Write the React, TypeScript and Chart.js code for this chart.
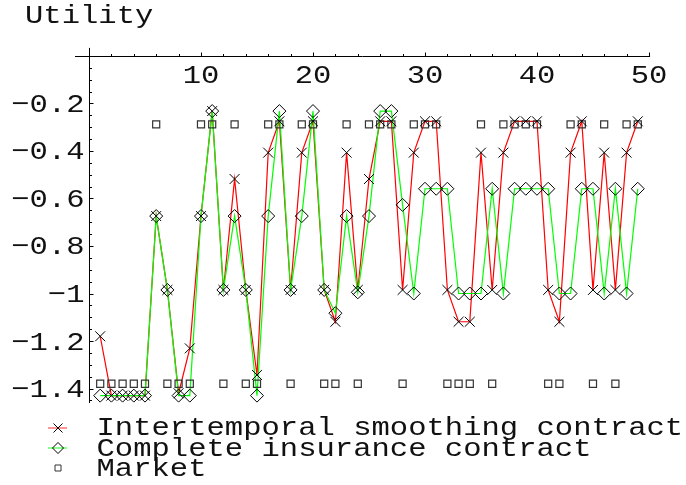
import React, { useEffect, useRef } from "react";
import { Chart, registerables } from "chart.js";

Chart.register(...registerables);

// ---------- data ----------
const periods = [
  1, 2, 3, 4, 5, 6, 7, 8, 9, 10, 11, 12, 13, 14, 15, 16, 17, 18, 19, 20, 21, 22, 23, 24, 25,
  26, 27, 28, 29, 30, 31, 32, 33, 34, 35, 36, 37, 38, 39, 40, 41, 42, 43, 44, 45, 46, 47, 48, 49,
];

const smoothing = [
  -1.18, -1.43, -1.43, -1.43, -1.43, -0.674, -0.985, -1.42, -1.231, -0.674,
  -0.232, -0.985, -0.518, -0.985, -1.343, -0.407, -0.275, -0.985, -0.407, -0.275,
  -0.985, -1.119, -0.407, -0.985, -0.518, -0.275, -0.275, -0.985, -0.407, -0.275,
  -0.275, -0.985, -1.119, -1.119, -0.407, -0.985, -0.407, -0.275, -0.275, -0.275,
  -0.985, -1.119, -0.407, -0.275, -0.985, -0.407, -0.985, -0.407, -0.275,
];

const insurance = [
  -1.43, -1.43, -1.43, -1.43, -1.43, -0.674, -0.985, -1.43, -1.43, -0.674,
  -0.232, -0.985, -0.674, -0.985, -1.43, -0.674, -0.232, -0.985, -0.674, -0.232,
  -0.985, -1.083, -0.674, -0.995, -0.674, -0.232, -0.232, -0.627, -1.0, -0.559,
  -0.559, -0.559, -1.0, -1.0, -1.0, -0.559, -1.0, -0.559, -0.559, -0.559,
  -0.559, -1.0, -1.0, -0.559, -0.559, -1.0, -0.559, -1.0, -0.559,
];

const market = [
  -1.38, -1.38, -1.38, -1.38, -1.38, -0.288, -1.38, -1.38, -1.38, -0.288,
  -0.288, -1.38, -0.288, -1.38, -1.38, -0.288, -0.288, -1.38, -0.288, -0.288,
  -1.38, -1.38, -0.288, -1.38, -0.288, -0.288, -0.288, -1.38, -0.288, -0.288,
  -0.288, -1.38, -1.38, -1.38, -0.288, -1.38, -0.288, -0.288, -0.288, -0.288,
  -1.38, -1.38, -0.288, -0.288, -1.38, -0.288, -1.38, -0.288, -0.288,
];

const xMajorTicks = [10, 20, 30, 40, 50];
const xTickLabels = ["10", "20", "30", "40", "50"];
const xMinorTicks = [2, 4, 6, 8, 12, 14, 16, 18, 22, 24, 26, 28, 32, 34, 36, 38, 42, 44, 46, 48];
const yMajorTicks = [-0.2, -0.4, -0.6, -0.8, -1.0, -1.2, -1.4];
const yTickLabels = ["\u22120.2", "\u22120.4", "\u22120.6", "\u22120.8", "\u22121", "\u22121.2", "\u22121.4"];
const yMinorTicks = [
  -0.05, -0.1, -0.15, -0.25, -0.3, -0.35, -0.45, -0.5, -0.55, -0.65, -0.7, -0.75,
  -0.85, -0.9, -0.95, -1.05, -1.1, -1.15, -1.25, -1.3, -1.35, -1.45,
];
const axisTitle = "Utility";
const legendLabels = [
  "Intertemporal smoothing contract",
  "Complete insurance contract",
  "Market",
];

const FONT = '26px "Liberation Mono", "DejaVu Sans Mono", monospace';
const TEXT_SX = 1.175;
const RED = "#ff0000";
const GREEN = "#00ff00";

function drawText(ctx: CanvasRenderingContext2D, t: string, x: number, y: number, align: CanvasTextAlign) {
  ctx.save();
  ctx.translate(x, y);
  ctx.scale(TEXT_SX, 1);
  ctx.font = FONT;
  ctx.fillStyle = "#111";
  ctx.textAlign = align;
  ctx.textBaseline = "alphabetic";
  ctx.fillText(t, 0, 0);
  ctx.restore();
}

function drawMarker(ctx: CanvasRenderingContext2D, kind: string, x: number, y: number, r: number) {
  ctx.beginPath();
  if (kind === "x") {
    ctx.moveTo(x - r, y - r);
    ctx.lineTo(x + r, y + r);
    ctx.moveTo(x + r, y - r);
    ctx.lineTo(x - r, y + r);
  } else if (kind === "d") {
    ctx.moveTo(x - r, y);
    ctx.lineTo(x, y - r);
    ctx.lineTo(x + r, y);
    ctx.lineTo(x, y + r);
    ctx.closePath();
  } else {
    ctx.rect(x - r, y - r, 2 * r, 2 * r);
  }
  ctx.stroke();
}

const mmaPlugin = {
  id: "mmaAxes",
  beforeDatasetsDraw(chart: any) {
    const { ctx } = chart;
    const xs = chart.scales.x;
    const ys = chart.scales.y;
    const x0 = Math.round(xs.getPixelForValue(0)) + 0.5;
    const y0 = Math.round(ys.getPixelForValue(0)) + 0.5;
    ctx.save();
    ctx.strokeStyle = "#000";
    ctx.lineWidth = 1;
    ctx.beginPath();
    ctx.moveTo(xs.getPixelForValue(xs.min), y0);
    ctx.lineTo(xs.getPixelForValue(50.1), y0);
    ctx.moveTo(x0, ys.getPixelForValue(ys.max));
    ctx.lineTo(x0, ys.getPixelForValue(ys.min));
    xMinorTicks.forEach((v) => {
      const px = Math.round(xs.getPixelForValue(v)) + 0.5;
      ctx.moveTo(px, y0);
      ctx.lineTo(px, y0 - 2.5);
    });
    xMajorTicks.forEach((v) => {
      const px = Math.round(xs.getPixelForValue(v)) + 0.5;
      ctx.moveTo(px, y0);
      ctx.lineTo(px, y0 - 4);
    });
    yMinorTicks.forEach((v) => {
      const py = Math.round(ys.getPixelForValue(v)) + 0.5;
      ctx.moveTo(x0, py);
      ctx.lineTo(x0 + 2.5, py);
    });
    yMajorTicks.forEach((v) => {
      const py = Math.round(ys.getPixelForValue(v)) + 0.5;
      ctx.moveTo(x0, py);
      ctx.lineTo(x0 + 4, py);
    });
    ctx.stroke();

    xMajorTicks.forEach((v, i) => {
      drawText(ctx, xTickLabels[i], xs.getPixelForValue(v), y0 + 26, "center");
    });
    yMajorTicks.forEach((v, i) => {
      drawText(ctx, yTickLabels[i], x0 - 5, ys.getPixelForValue(v) + 8.5, "right");
    });
    drawText(ctx, axisTitle, 25, 23, "left");
    ctx.restore();
  },
  afterDraw(chart: any) {
    const { ctx } = chart;
    ctx.save();
    const rows = [428, 448, 468];
    const lineColors = ["rgba(255,0,0,0.55)", "rgba(0,255,0,0.6)", null];
    const kinds = ["x", "d", "s"];
    const sizes = [4.5, 5.5, 3];
    rows.forEach((ry, i) => {
      const c = lineColors[i];
      if (c) {
        ctx.strokeStyle = c;
        ctx.lineWidth = 1.5;
        ctx.beginPath();
        ctx.moveTo(48, ry);
        ctx.lineTo(67, ry);
        ctx.stroke();
      }
      ctx.strokeStyle = i === 2 ? "#333" : "#000";
      ctx.lineWidth = 1;
      drawMarker(ctx, kinds[i], 58, ry, sizes[i]);
    });
    const baselines = [435, 455.5, 475.5];
    legendLabels.forEach((t, i) => drawText(ctx, t, 96.5, baselines[i], "left"));
    ctx.restore();
  },
};

export default function App() {
  const ref = useRef<HTMLCanvasElement | null>(null);

  useEffect(() => {
    if (!ref.current) return;
    const pts = (vals: number[]) => periods.map((p, i) => ({ x: p, y: vals[i] }));
    const chart = new Chart(ref.current, {
      type: "scatter",
      data: {
        datasets: [
          {
            label: legendLabels[0] + " markers",
            data: pts(smoothing),
            showLine: false,
            pointStyle: "crossRot",
            pointRadius: 7,
            borderColor: "#000",
            backgroundColor: "transparent",
            borderWidth: 1,
            order: 1,
          },
          {
            label: legendLabels[1] + " markers",
            data: pts(insurance),
            showLine: false,
            pointStyle: "rectRot",
            pointRadius: 6.5,
            borderColor: "#000",
            backgroundColor: "transparent",
            borderWidth: 1,
            order: 1,
          },
          {
            label: legendLabels[2],
            data: pts(market),
            showLine: false,
            pointStyle: "rect",
            pointRadius: 5,
            borderColor: "#333",
            backgroundColor: "transparent",
            borderWidth: 1.2,
            order: 1,
          },
          {
            label: legendLabels[1],
            data: pts(insurance),
            showLine: true,
            pointRadius: 0,
            borderColor: GREEN,
            borderWidth: 1.2,
            order: 2,
          },
          {
            label: legendLabels[0],
            data: pts(smoothing),
            showLine: true,
            pointRadius: 0,
            borderColor: RED,
            borderWidth: 1.2,
            order: 3,
          },
        ],
      },
      options: {
        responsive: false,
        animation: false,
        devicePixelRatio: 1,
        layout: { padding: { left: 75, right: 35.9, top: 47.9, bottom: 82 } },
        plugins: { legend: { display: false }, tooltip: { enabled: false }, title: { display: false } },
        elements: { line: { tension: 0 } },
        scales: {
          x: { type: "linear", min: -1.25, max: 50.1, display: false },
          y: { type: "linear", min: -1.461, max: 0.034, display: false },
        },
      },
      plugins: [mmaPlugin],
    });
    return () => chart.destroy();
  }, []);

  return (
    <div style={{ position: "fixed", left: 0, top: 0, width: 686, height: 485, background: "#fff" }}>
      <canvas ref={ref} width={686} height={485} style={{ display: "block" }} />
    </div>
  );
}
